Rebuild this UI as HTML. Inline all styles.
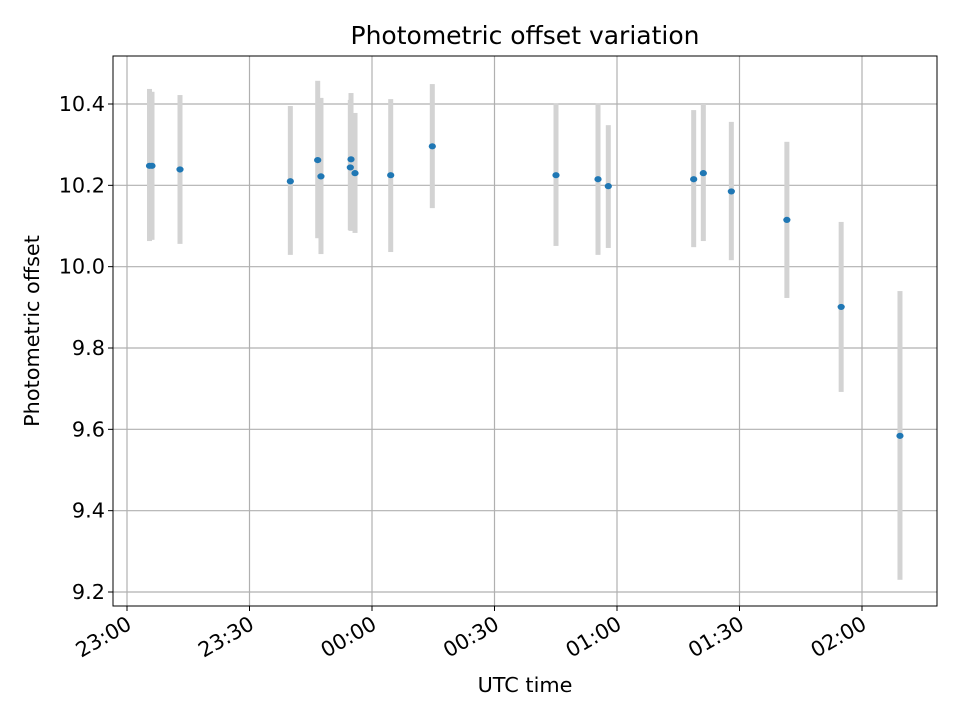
<!DOCTYPE html>
<html><head><meta charset="utf-8"><style>
body{margin:0;background:#fff;font-family:"Liberation Sans","DejaVu Sans",sans-serif}
svg text{font-family:"DejaVu Sans","Liberation Sans",sans-serif}
</style></head><body>
<svg id="chart" width="960" height="720" xmlns="http://www.w3.org/2000/svg"></svg>
<script>
// minutes since 23:00 UTC
const times = [5.51,6.12,12.98,40.0,46.7,47.5,54.86,54.69,55.84,64.58,74.77,105.06,115.35,117.87,138.78,141.14,148.0,161.6,174.9,189.3];
const offsets = [10.248,10.248,10.239,10.210,10.262,10.222,10.264,10.244,10.230,10.225,10.296,10.225,10.215,10.198,10.215,10.230,10.185,10.115,9.901,9.584];
const errHigh = [10.437,10.430,10.422,10.395,10.457,10.415,10.427,10.41,10.378,10.412,10.449,10.402,10.402,10.348,10.385,10.4,10.356,10.307,10.110,9.940];
const errLow = [10.063,10.066,10.056,10.029,10.070,10.031,10.088,10.09,10.083,10.036,10.144,10.051,10.029,10.046,10.048,10.063,10.016,9.923,9.692,9.230];
const yTicks = [9.2,9.4,9.6,9.8,10.0,10.2,10.4];
const xTickMinutes = [0,30,60,90,120,150,180];
const xTickLabels = ["23:00","23:30","00:00","00:30","01:00","01:30","02:00"];

const L=113,R=937,T=56,B=606;
const xs=m=>127+m*(122.5/30);
const ys=v=>104+(10.4-v)*(488/1.2);
const svg=document.getElementById('chart');
const NS='http://www.w3.org/2000/svg';
function mk(tag,attrs,parent){const e=document.createElementNS(NS,tag);for(const k in attrs)e.setAttribute(k,attrs[k]);(parent||svg).appendChild(e);return e;}

const grid=mk('g',{});


xTickMinutes.forEach(m=>{mk('line',{x1:xs(m),x2:xs(m),y1:T,y2:B,stroke:'#b0b0b0','stroke-width':1.2},grid);});
yTicks.forEach(v=>{mk('line',{x1:L,x2:R,y1:ys(v),y2:ys(v),stroke:'#b0b0b0','stroke-width':1.2},grid);});

const eg=mk('g',{});


times.forEach((t,i)=>{
  const r=mk('rect',{x:xs(t)-2.5,y:ys(errHigh[i]),width:5,height:ys(errLow[i])-ys(errHigh[i]),fill:'#d3d3d3'},eg);
  
  
});
const pg=mk('g',{});


times.forEach((t,i)=>{
  const c=mk('ellipse',{cx:xs(t),cy:ys(offsets[i]),rx:3.6,ry:3.1,fill:'#1f77b4'},pg);
  
  
});

const fr=mk('rect',{x:L,y:T,width:R-L,height:B-T,fill:'none',stroke:'#000','stroke-width':1});



const ya=mk('g',{});


yTicks.forEach(v=>{
  mk('line',{x1:L-5,x2:L,y1:ys(v),y2:ys(v),stroke:'#000'},ya);
  const tx=mk('text',{x:L-8,y:ys(v)+7,'text-anchor':'end','font-size':20.8},ya);
  tx.textContent=v.toFixed(1);
  
  
});
const xa=mk('g',{});


xTickMinutes.forEach((m,i)=>{
  const x=xs(m);
  mk('line',{x1:x,x2:x,y1:B,y2:B+5,stroke:'#000'},xa);
  const ax=x+6, ay=B+22;
  const tx=mk('text',{x:ax,y:ay,'text-anchor':'end','font-size':20.8,transform:`rotate(-30 ${ax} ${ay})`},xa);
  tx.textContent=xTickLabels[i];
  
  
});

const title=mk('text',{x:525,y:44,'text-anchor':'middle','font-size':25});
title.textContent='Photometric offset variation';


const xt=mk('text',{x:525,y:692,'text-anchor':'middle','font-size':20.8});
xt.textContent='UTC time';


const yt=mk('text',{x:39,y:331,'text-anchor':'middle','font-size':20.8,transform:'rotate(-90 39 331)'});
yt.textContent='Photometric offset';


</script>
</body></html>
